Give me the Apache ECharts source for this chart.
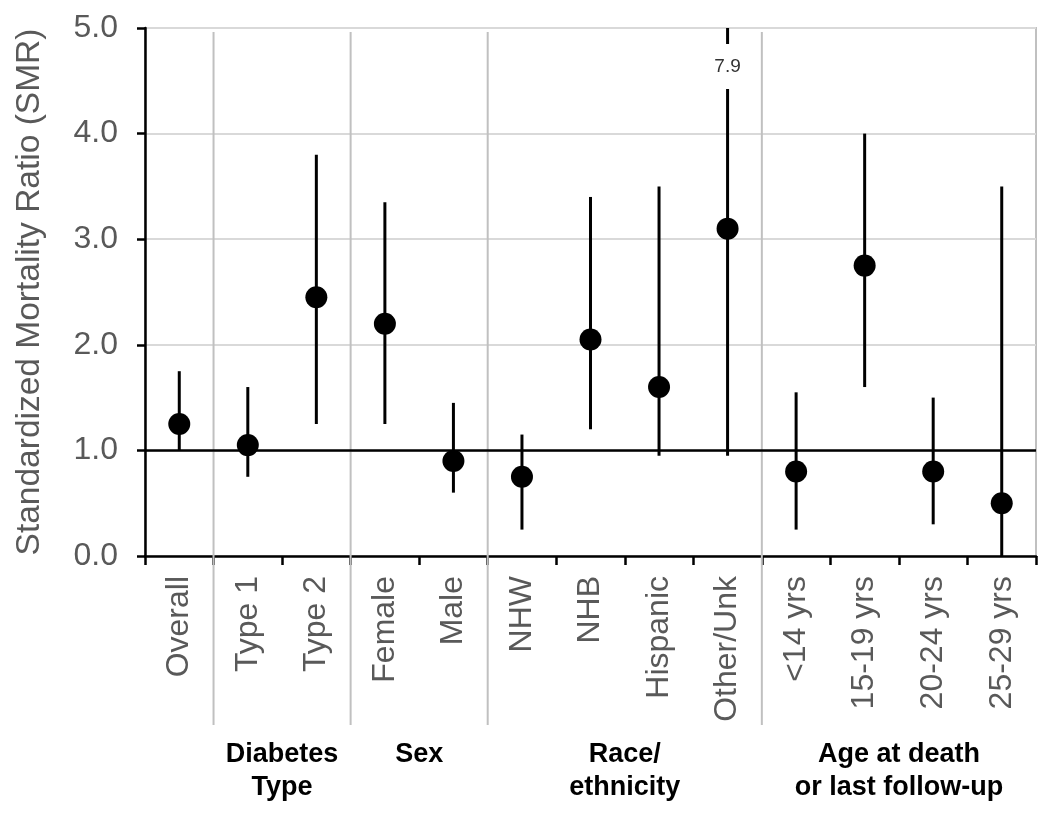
<!DOCTYPE html>
<html>
<head>
<meta charset="utf-8">
<script src="https://cdn.jsdelivr.net/npm/echarts@6/dist/echarts.min.js"></script>
<style>
html,body{margin:0;padding:0;background:#fff;}
#chart{width:1050px;height:817px;}
</style>
</head>
<body>
<div id="chart"></div>
<script>
// ---- data ----
const categories = ['Overall','Type 1','Type 2','Female','Male','NHW','NHB','Hispanic','Other/Unk','<14 yrs','15-19 yrs','20-24 yrs','25-29 yrs'];
const smr   = [1.25, 1.05, 2.45, 2.2, 0.9, 0.75, 2.05, 1.6, 3.1, 0.8, 2.75, 0.8, 0.5];
const lows  = [1.0, 0.75, 1.25, 1.25, 0.6, 0.25, 1.2, 0.95, 0.95, 0.25, 1.6, 0.3, 0.0];
const highs = [1.75, 1.6, 3.8, 3.35, 1.45, 1.15, 3.4, 3.5, 7.9, 1.55, 4.0, 1.5, 3.5];
const groupNames = ['', 'Diabetes\nType', 'Sex', 'Race/\nethnicity', 'Age at death\nor last follow-up'];
const groupStart = [0, 1, 3, 5, 9];
const groupEnd   = [0, 2, 4, 8, 12];
const yTicks = [0, 1, 2, 3, 4, 5];
const refLine = 1.0;

const FONT = '"Liberation Sans", Arial, sans-serif';
const Y_MAX = yTicks[yTicks.length - 1];

const chart = echarts.init(document.getElementById('chart'));

const option = {
  backgroundColor: '#fff',
  animation: false,
  grid: {
    left: 145, right: 14, top: 28, bottom: 261,
    show: true, borderColor: '#c0c0c0', borderWidth: 2, backgroundColor: 'transparent'
  },
  xAxis: {
    type: 'category',
    data: categories,
    boundaryGap: true,
    axisLine: { show: true, lineStyle: { color: '#000', width: 2.5 } },
    axisTick: { show: true, length: 9, lineStyle: { color: '#000', width: 2.5 }, alignWithLabel: false },
    axisLabel: { rotate: 90, color: '#595959', fontSize: 32, fontFamily: FONT, margin: 20, interval: 0 },
    splitLine: { show: false }
  },
  yAxis: {
    type: 'value',
    min: yTicks[0], max: Y_MAX, interval: 1,
    name: 'Standardized Mortality Ratio (SMR)',
    nameLocation: 'middle',
    nameGap: 98,
    nameTextStyle: { color: '#595959', fontSize: 33.5, fontFamily: FONT },
    axisLine: { show: true, lineStyle: { color: '#000', width: 2.5 } },
    axisTick: { show: true, length: 8, lineStyle: { color: '#000', width: 2.5 } },
    axisLabel: { color: '#595959', fontSize: 32, fontFamily: FONT, margin: 27, formatter: v => v.toFixed(1) },
    splitLine: { show: true, lineStyle: { color: '#d9d9d9', width: 2 } }
  },
  series: [
    {
      // group separators and group titles
      type: 'custom',
      z: 1,
      clip: false,
      silent: true,
      data: groupStart.map((s, i) => [s, groupEnd[i]]),
      renderItem: function (params, api) {
        const s = api.value(0), e = api.value(1);
        const bw = api.size([1, 0])[0];
        const xL = api.coord([s, 0])[0] - bw / 2;
        const xR = api.coord([e, 0])[0] + bw / 2;
        const yTop = api.coord([s, Y_MAX])[1];
        const yBot = api.coord([s, 0])[1];
        const children = [];
        if (s > 0) {
          children.push({
            type: 'line',
            shape: { x1: xL, y1: yTop + 4, x2: xL, y2: yBot + 169 },
            style: { stroke: '#c0c0c0', lineWidth: 2 }
          });
        }
        const name = groupNames[params.dataIndex];
        if (name) {
          children.push({
            type: 'text',
            style: {
              x: (xL + xR) / 2, y: yBot + 182,
              text: name,
              align: 'center', verticalAlign: 'top',
              fill: '#000', fontSize: 27, fontWeight: 'bold', fontFamily: FONT,
              lineHeight: 33
            }
          });
        }
        return { type: 'group', children: children };
      }
    },
    {
      // confidence interval bars
      type: 'custom',
      z: 3,
      clip: false,
      silent: true,
      data: categories.map((c, i) => [i, lows[i], highs[i]]),
      encode: { x: 0, y: [1, 2] },
      renderItem: function (params, api) {
        const i = api.value(0), lo = api.value(1), hi = api.value(2);
        const top = Math.min(hi, Y_MAX);
        const p1 = api.coord([i, lo]);
        const p2 = api.coord([i, top]);
        const st = { stroke: '#000', lineWidth: 3 };
        if (hi > Y_MAX) {
          return {
            type: 'group',
            children: [
              { type: 'line', shape: { x1: p2[0], y1: p2[1], x2: p2[0], y2: p2[1] + 16 }, style: st },
              { type: 'line', shape: { x1: p2[0], y1: p2[1] + 61, x2: p1[0], y2: p1[1] }, style: st },
              { type: 'text', style: { x: p2[0], y: p2[1] + 39, text: hi.toFixed(1), align: 'center', verticalAlign: 'middle', fill: '#333', fontSize: 19, fontFamily: FONT } }
            ]
          };
        }
        return { type: 'line', shape: { x1: p1[0], y1: p1[1], x2: p2[0], y2: p2[1] }, style: st };
      }
    },
    {
      type: 'scatter',
      z: 4,
      symbol: 'circle',
      symbolSize: 22,
      itemStyle: { color: '#000', opacity: 1 },
      emphasis: { disabled: true },
      silent: true,
      data: smr,
      markLine: {
        silent: true,
        symbol: 'none',
        label: { show: false },
        lineStyle: { color: '#000', width: 2.5, type: 'solid', opacity: 1 },
        data: [{ yAxis: refLine }]
      }
    }
  ]
};

chart.setOption(option);
</script>
</body>
</html>
